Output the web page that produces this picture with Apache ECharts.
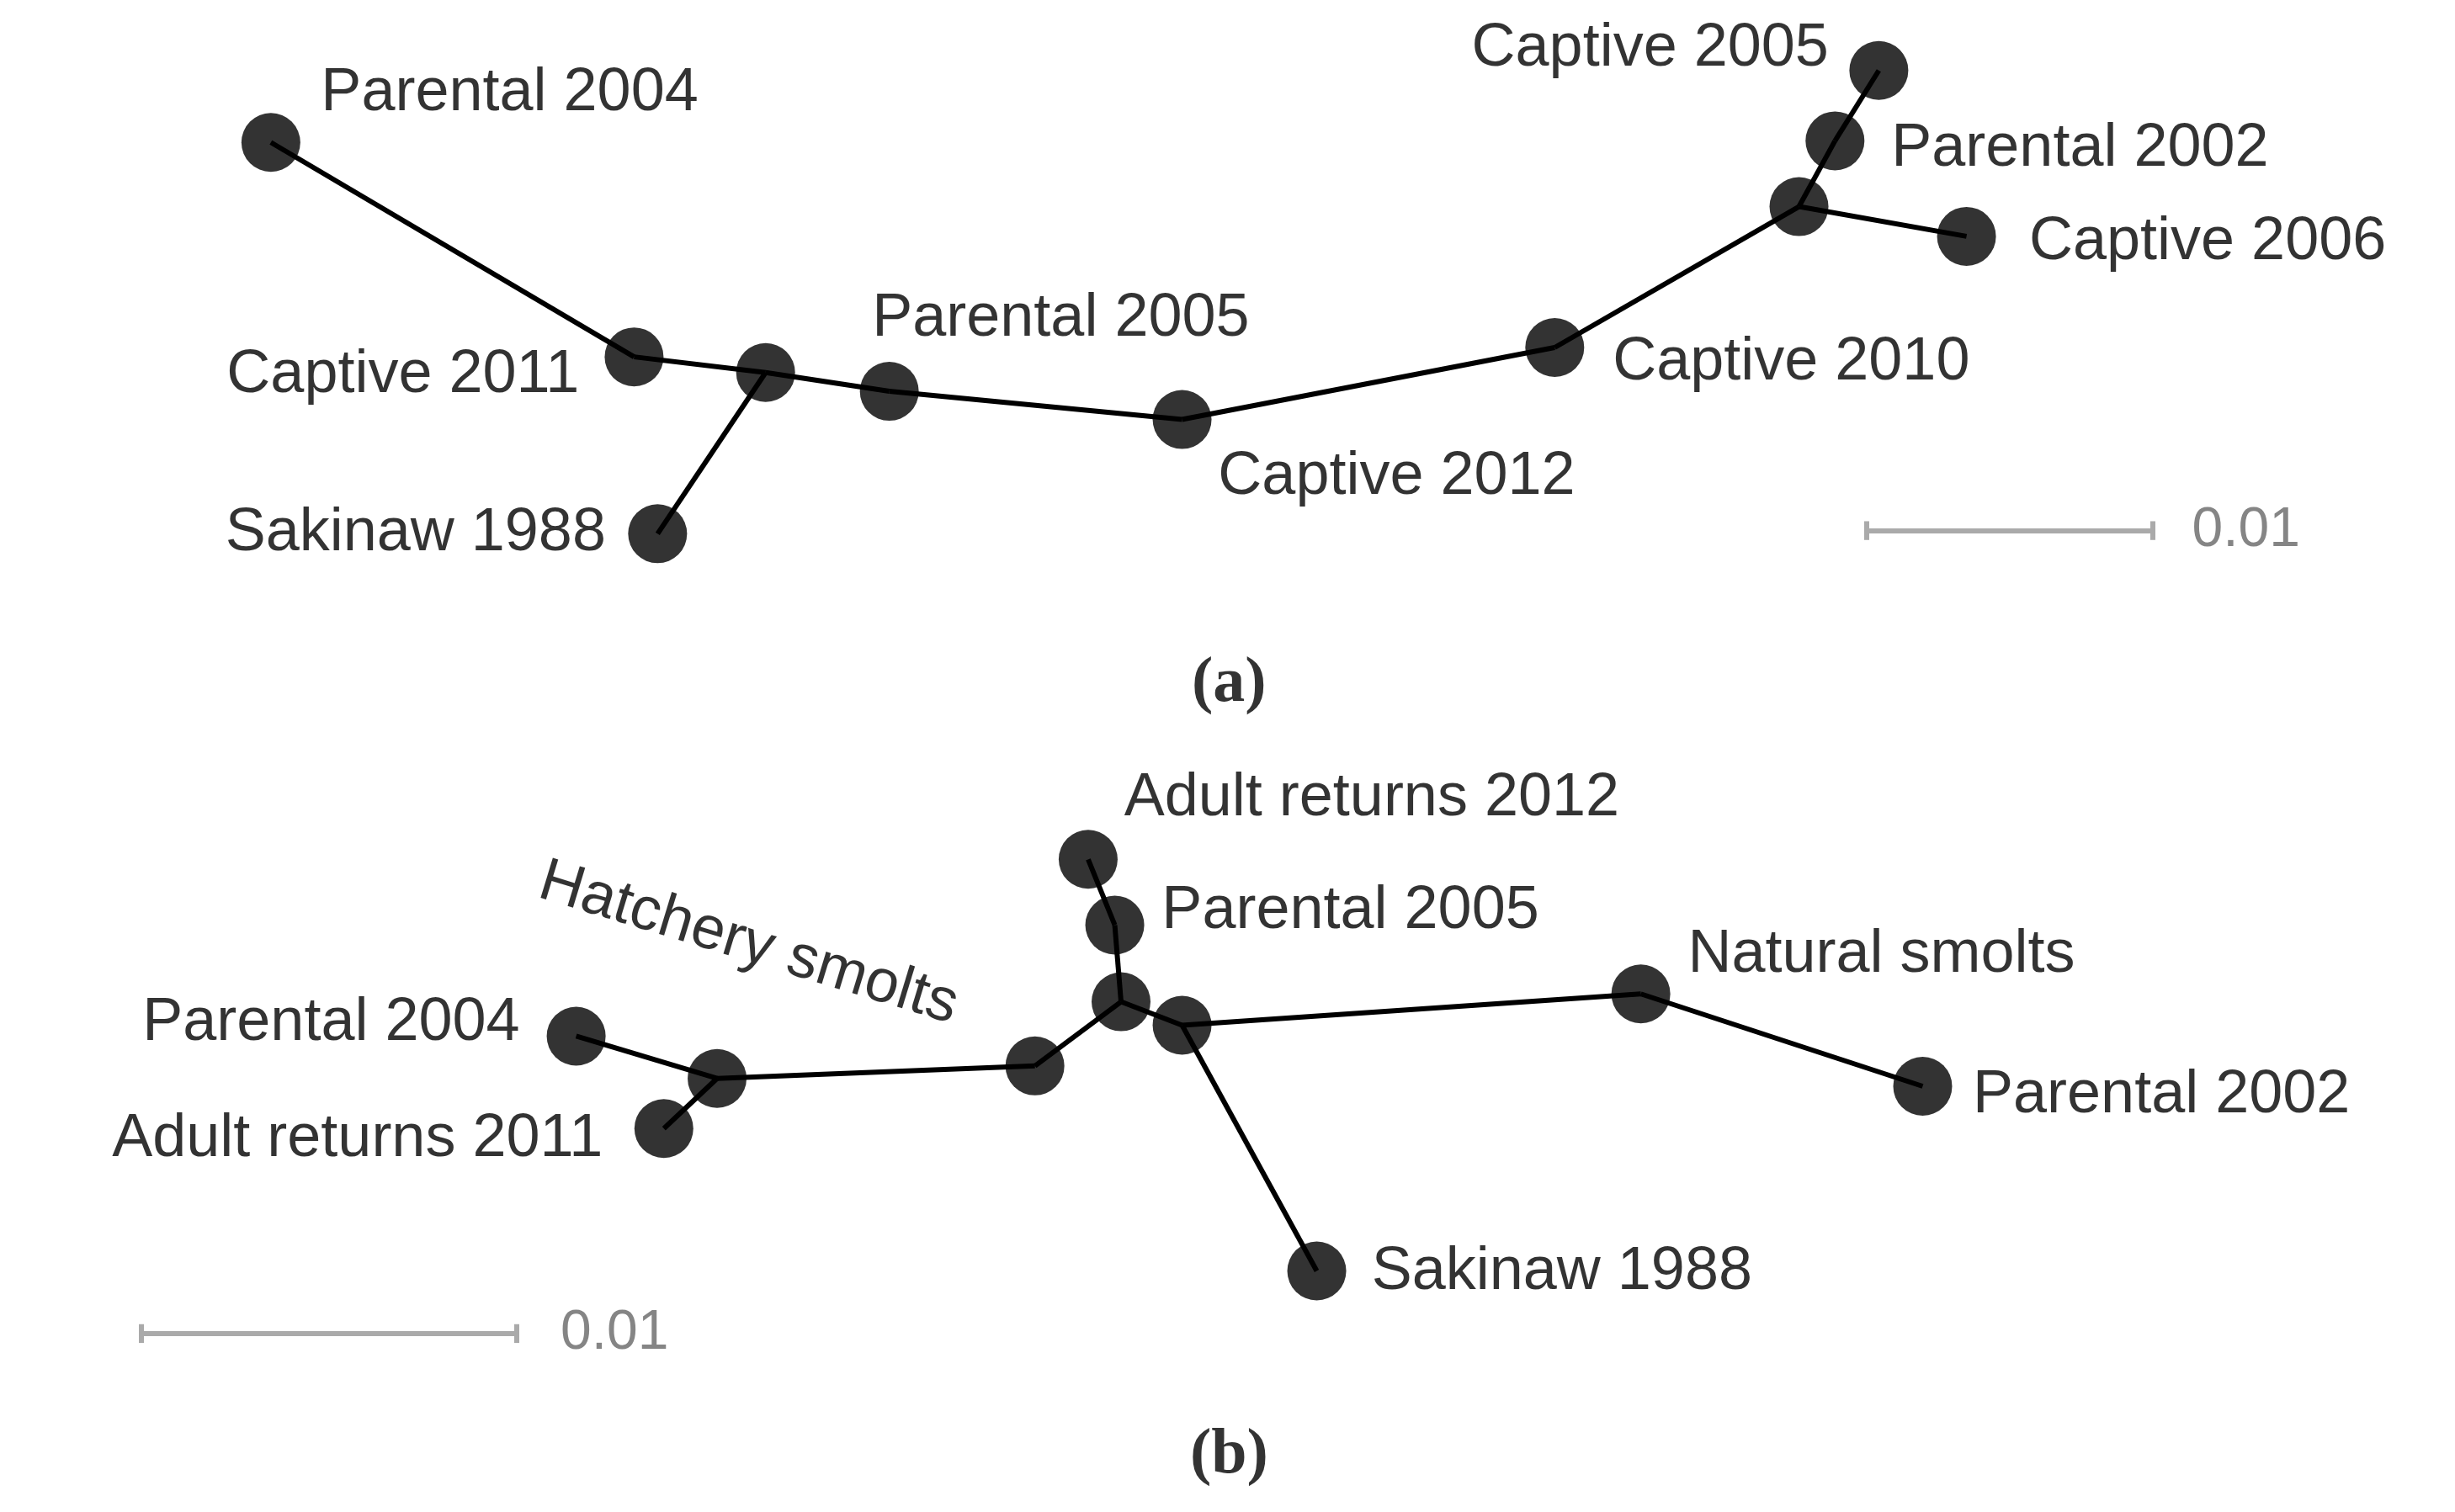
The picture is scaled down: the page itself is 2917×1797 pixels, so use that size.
<!DOCTYPE html>
<html><head><meta charset="utf-8">
<script src="https://cdn.jsdelivr.net/npm/echarts@6/dist/echarts.min.js"></script>
<style>html,body{margin:0;padding:0;background:#fff}#c{width:2917px;height:1797px}</style>
</head><body><div id="c"></div>
<script>
// Tree node coordinates (in figure units, 0..1568 x 0..966)
const nodeNames = ['P2004a','C2011','n1','S1988a','P2005a','C2012','C2010','n2','P2002a','C2005','C2006',
  'AR2012','P2005b','n3','n4','HS','n5','P2004b','AR2011','NS','P2002b','S1988b'];
const nodeX = [173,405,489,420,568,755,993,1149,1172,1200,1256, 695,712,716,755,661,458,368,424,1048,1228,841];
const nodeY = [91,228,238,341,250,268,222,132,90,45,151, 549,591,640,655,681,689,662,721,635,694,812];
const edges = [['P2004a','C2011'],['C2011','n1'],['n1','S1988a'],['n1','P2005a'],['P2005a','C2012'],['C2012','C2010'],
  ['C2010','n2'],['n2','C2006'],['n2','P2002a'],['P2002a','C2005'],
  ['AR2012','P2005b'],['P2005b','n3'],['n3','HS'],['n3','n4'],['n4','NS'],['NS','P2002b'],['n4','S1988b'],
  ['HS','n5'],['n5','P2004b'],['n5','AR2011']];
// Labels
const labelText = ['Parental 2004','Captive 2011','Sakinaw 1988','Parental 2005','Captive 2012','Captive 2010','Captive 2005','Parental 2002','Captive 2006',
  'Adult returns 2012','Parental 2005','Parental 2004','Adult returns 2011','Natural smolts','Parental 2002','Sakinaw 1988'];
const labelX = [205,370,387,557,778,1030,1168,1208,1296, 718,742,332,385,1078,1260,876];
const labelY = [60,240,341,204,305,232,31,95,155, 510,582,654,728,610,700,813];
const labelAlign = ['left','right','right','left','left','left','right','left','left','left','left','right','right','left','left','left'];
const scaleBars = [{x1:1192,x2:1375,y:339,text:'0.01',tx:1400},{x1:90,x2:330,y:852,text:'0.01',tx:358}];
const panels = [{t:'(a)',x:785,y:437},{t:'(b)',x:785,y:930}];

const idx = n => nodeNames.indexOf(n);
const chart = echarts.init(document.getElementById('c'));
const FS = 72;
const series = [];
series.push({type:'lines',coordinateSystem:'cartesian2d',polyline:false,silent:true,z:1,
  lineStyle:{color:'#000',width:6,opacity:1},
  data:edges.map(e=>({coords:[[nodeX[idx(e[0])],nodeY[idx(e[0])]],[nodeX[idx(e[1])],nodeY[idx(e[1])]]]}))});
series.push({type:'scatter',symbolSize:70,z:2,itemStyle:{color:'#000'},data:nodeX.map((x,i)=>[x,nodeY[i]])});
series.push({type:'scatter',symbolSize:0,z:3,data:labelX.map((x,i)=>({value:[x,labelY[i]],label:{show:true,position:'inside',
  formatter:labelText[i],align:labelAlign[i],verticalAlign:'middle',color:'#000',fontSize:FS,fontFamily:'Liberation Sans'}}))});
series.push({type:'scatter',symbolSize:0,z:3,data:[{value:[478,603],label:{show:true,position:'inside',formatter:'Hatchery smolts',
  rotate:-17,align:'center',verticalAlign:'middle',color:'#000',fontSize:FS,fontFamily:'Liberation Sans'}}]});
series.push({type:'lines',coordinateSystem:'cartesian2d',silent:true,lineStyle:{color:'#aaa',width:6,opacity:1},
  data:scaleBars.flatMap(b=>[{coords:[[b.x1,b.y],[b.x2,b.y]]},{coords:[[b.x1,b.y-6],[b.x1,b.y+6]]},{coords:[[b.x2,b.y-6],[b.x2,b.y+6]]}])});
series.push({type:'scatter',symbolSize:0,data:scaleBars.map(b=>({value:[b.tx,b.y],label:{show:true,position:'inside',formatter:b.text,
  align:'left',verticalAlign:'middle',color:'#666',fontSize:66,fontFamily:'Liberation Sans'}}))});
series.push({type:'scatter',symbolSize:0,data:panels.map(p=>({value:[p.x,p.y],label:{show:true,position:'inside',formatter:p.t,
  align:'center',verticalAlign:'middle',color:'#000',fontSize:76,fontWeight:'bold',fontFamily:'Liberation Serif'}}))});
chart.setOption({animation:false,
  grid:{left:0,right:0,top:0,bottom:0},
  xAxis:{type:'value',min:0,max:1568,show:false},
  yAxis:{type:'value',min:0,max:966,inverse:true,show:false},
  series});
</script></body></html>
